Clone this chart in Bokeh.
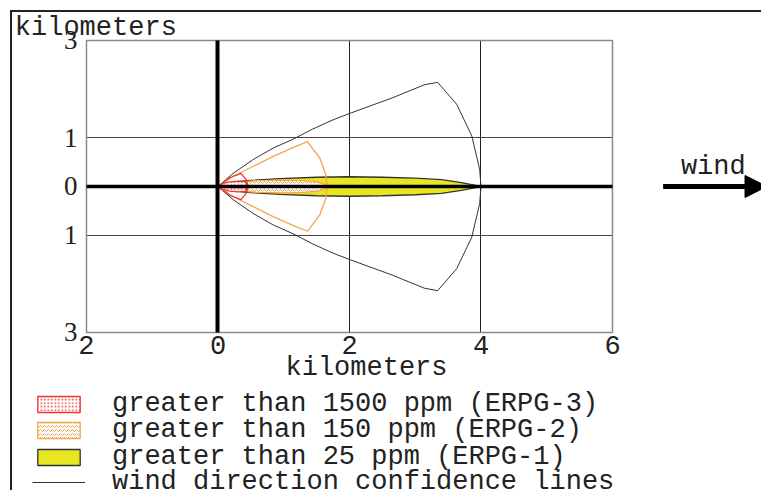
from bokeh.plotting import figure
from bokeh.layouts import column
from bokeh.models import (Label, LabelSet, ColumnDataSource, Arrow, NormalHead, Legend, LegendItem,
                          BoxAnnotation, FixedTicker, Grid, Title)
from bokeh.embed import file_html
from bokeh.resources import INLINE

FONT = "Liberation Mono"

# ---- data (km) : upper halves, mirrored below ----
# ERPG-1 footprint (>25 ppm)
erpg1_x = [0, 0.10, 0.25, 0.43, 0.94, 1.5, 2.0, 2.5, 3.0, 3.4, 3.7, 3.9, 4.0]
erpg1_y = [0, 0.05, 0.09, 0.12, 0.16, 0.19, 0.20, 0.19, 0.17, 0.14, 0.08, 0.03, 0]
# ERPG-2 footprint (>150 ppm)
erpg2_x = [0, 0.10, 0.30, 0.60, 1.00, 1.30, 1.50, 1.60, 1.64]
erpg2_y = [0, 0.05, 0.09, 0.12, 0.13, 0.12, 0.10, 0.06, 0]
# ERPG-3 footprint (>1500 ppm)
erpg3_x = [0, 0.05, 0.15, 0.30, 0.42, 0.44]
erpg3_y = [0, 0.05, 0.09, 0.11, 0.10, 0]

# wind direction confidence lines (upper line + arc)
conf_x = [0, 0.23, 0.53, 0.84, 1.14, 1.44, 1.75, 2.02, 2.63, 3.14, 3.34, 3.63, 3.86, 3.98, 4.0]
conf_y = [0, 0.27, 0.55, 0.79, 0.97, 1.18, 1.37, 1.51, 1.81, 2.09, 2.14, 1.69, 1.04, 0.35, 0]
conf2_x = [0, 0.23, 0.53, 0.84, 1.14, 1.36, 1.55, 1.64, 1.66]
conf2_y = [0, 0.21, 0.41, 0.62, 0.80, 0.92, 0.58, 0.24, 0]
conf3_x = [0, 0.18, 0.35, 0.43, 0.46]
conf3_y = [0, 0.18, 0.27, 0.14, 0]

x_ticks = [-2, 0, 2, 4, 6]
x_tick_labels = ["2", "0", "2", "4", "6"]
y_ticks = [-3, -1, 0, 1, 3]
y_tick_labels = ["3", "1", "0", "1", "3"]

legend_labels = ["greater than 1500 ppm (ERPG-3)",
                 "greater than 150 ppm (ERPG-2)",
                 "greater than 25 ppm (ERPG-1)",
                 "wind direction confidence lines"]


def mirror(xs, ys):
    return list(xs) + list(xs[::-1]), list(ys) + [-v for v in ys[::-1]]


def mirror_line(xs, ys):
    return list(xs) + list(xs[::-1][1:]), list(ys) + [-v for v in ys[::-1][1:]]


RED = "#ee3535"
ORANGE = "#f6a550"
YELLOW = "#e8e620"
DARK = "#222222"
FS = "27px"

X0, X1, Y0, Y1 = -2, 6, -3, 3
# the frame spans the whole canvas width and top (units title, tick labels, wind arrow)
XR_START, XR_END = -3.125, 8.266
YR_START, YR_END = -3.2055, 3.575

p = figure(width=749, height=373, x_range=(XR_START, XR_END), y_range=(YR_START, YR_END),
           output_backend="svg", toolbar_location=None, y_axis_location=None,
           min_border_left=0, min_border_right=0, min_border_top=0, min_border_bottom=43)

p.background_fill_color = "white"
p.border_fill_color = "white"
p.outline_line_color = None
p.title.text = ""

# y units title at top-left
p.add_layout(Label(x=-3.09, y=3.56, text="kilometers", text_font=FONT, text_font_size=FS,
                   text_color=DARK, text_baseline="top", text_align="left"))

# x axis
p.xaxis.ticker = FixedTicker(ticks=x_ticks)
p.xaxis.bounds = (X0, X1)
p.xaxis.major_label_overrides = dict(zip(x_ticks, x_tick_labels))
p.xaxis.axis_line_color = None
p.xaxis.major_tick_line_color = None
p.xaxis.minor_tick_line_color = None
p.xaxis.major_tick_out = 0
p.xaxis.major_tick_in = 0
p.xaxis.major_label_text_font = FONT
p.xaxis.major_label_text_font_size = FS
p.xaxis.major_label_text_color = DARK
p.xaxis.major_label_standoff = -7

# y tick labels, left of the plotting box
ysrc = ColumnDataSource(dict(x=[X0] * len(y_ticks), y=y_ticks, text=y_tick_labels))
p.add_layout(LabelSet(x="x", y="y", text="text", source=ysrc, x_offset=-9,
                      text_align="right", text_baseline="middle",
                      text_font=FONT, text_font_size=FS, text_color=DARK))

# x axis units, below the tick labels
xt = Title(text="kilometers", align="left", offset=273, text_font=FONT, text_font_size=FS,
           text_font_style="normal", text_color=DARK, standoff=-12)
p.add_layout(xt, "below")

# grid (limited to the plotting box)
p.xgrid.ticker = FixedTicker(ticks=[2, 4])
p.ygrid.ticker = FixedTicker(ticks=[-1, 1])
p.xgrid.cross_bounds = (Y0, Y1)
p.ygrid.cross_bounds = (X0, X1)
p.xgrid.grid_line_color = DARK
p.ygrid.grid_line_color = "#444444"

# plotting box outline
p.add_layout(BoxAnnotation(left=X0, right=X1, bottom=Y0, top=Y1, fill_color=None,
                           line_color="#8a8a8a", line_alpha=1, line_width=1.5, level="underlay"))

# footprints
x1, y1 = mirror(erpg1_x, erpg1_y)
x2, y2 = mirror(erpg2_x, erpg2_y)
x3, y3 = mirror(erpg3_x, erpg3_y)
style1 = dict(fill_color=YELLOW, line_color="#333333", line_width=1.3)
style2 = dict(fill_color="white", line_color=ORANGE, line_width=1.3,
              hatch_pattern="horizontal_wave", hatch_color=ORANGE, hatch_scale=4, hatch_weight=1)
style3 = dict(fill_color="white", line_color=RED, line_width=1.3,
              hatch_pattern="dot", hatch_color=RED, hatch_scale=3.5, hatch_weight=1)
p.patch(x1, y1, **style1)
p.patch(x2, y2, **style2)
p.patch(x3, y3, **style3)

# confidence lines
cx, cy = mirror_line(conf_x, conf_y)
c2x, c2y = mirror_line(conf2_x, conf2_y)
c3x, c3y = mirror_line(conf3_x, conf3_y)
style_l = dict(line_color="#333333", line_width=1)
p.line(cx, cy, **style_l)
p.line(c2x, c2y, line_color=ORANGE, line_width=1.3)
p.line(c3x, c3y, line_color=RED, line_width=1.3)

# thick axes through origin (grids limited to the plotting box, drawn on top)
gx0 = Grid(dimension=0, ticker=FixedTicker(ticks=[0]), cross_bounds=(Y0, Y1),
           grid_line_color="black", grid_line_width=4, level="annotation")
gy0 = Grid(dimension=1, ticker=FixedTicker(ticks=[0]), cross_bounds=(X0, X1),
           grid_line_color="black", grid_line_width=3.5, level="annotation")
p.add_layout(gx0)
p.add_layout(gy0)

# wind arrow
p.add_layout(Label(x=7.04, y=0.41, text="wind", text_font=FONT, text_font_size=FS,
                   text_color=DARK, text_baseline="middle", text_align="left"))
p.add_layout(Arrow(x_start=6.77, y_start=0, x_end=8.35, y_end=0, line_width=5, line_color="black",
                   end=NormalHead(size=22, fill_color="black", line_color="black")))

# legend panel: a separate figure below the map; its swatch renderers reuse the
# map's data but sit outside this panel's visible range, so only the legend shows
lg = figure(width=749, height=106, x_range=(100, 101), y_range=(100, 101),
            output_backend="svg", toolbar_location=None,
            x_axis_location=None, y_axis_location=None,
            min_border_left=0, min_border_right=0, min_border_top=0, min_border_bottom=0)
lg.grid.visible = False
lg.outline_line_color = None
lg.background_fill_color = "white"
lg.border_fill_color = "white"
e3 = lg.patch(x3, y3, **style3)
e2 = lg.patch(x2, y2, **style2)
e1 = lg.patch(x1, y1, **style1)
el = lg.line(cx, cy, **style_l)

row_offsets = [72, 46, 19, -6]
for lab, ren, vy in zip(legend_labels, [e3, e2, e1, el], row_offsets):
    lg.add_layout(Legend(items=[LegendItem(label=lab, renderers=[ren])],
                         location=(20, vy), orientation="vertical",
                         glyph_width=53, glyph_height=20, label_standoff=27, spacing=0,
                         padding=0, margin=0, border_line_color=None, background_fill_alpha=0,
                         label_text_font=FONT, label_text_font_size=FS, label_text_color=DARK),
                  "center")

layout = column(p, lg, spacing=0, margin=(10, 0, 0, 10),
                styles={"border-left": "2.5px solid #222", "border-top": "2.5px solid #222"})

open("out.html", "w").write(file_html(layout, INLINE))
